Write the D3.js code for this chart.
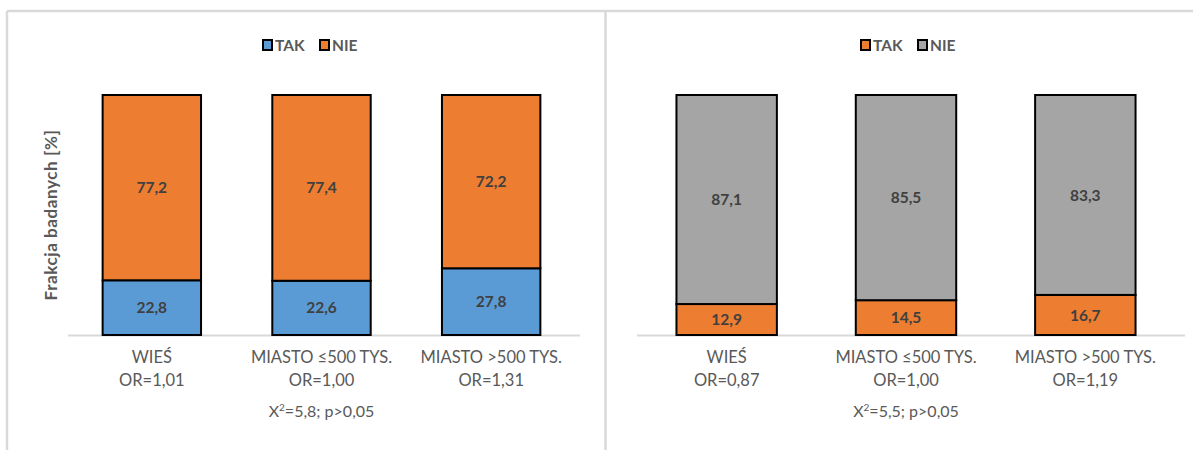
<!DOCTYPE html>
<html>
<head>
<meta charset="utf-8">
<script src="https://cdn.jsdelivr.net/npm/d3@7"></script>
<style>
  html, body { margin: 0; padding: 0; background: #ffffff; }
  svg { display: block; font-family: Lato, "Open Sans", sans-serif; }
</style>
</head>
<body>
<svg id="chart" width="1193" height="450"></svg>
<script>
// Categories (two-line axis labels)
const categories = ["WIEŚ", "MIASTO ≤500 TYS.", "MIASTO >500 TYS."];
const orLeft = ["OR=1,01", "OR=1,00", "OR=1,31"];
const orRight = ["OR=0,87", "OR=1,00", "OR=1,19"];

// Series values, percent
const takLeft = [22.8, 22.6, 27.8];
const nieLeft = [77.2, 77.4, 72.2];
const takRight = [12.9, 14.5, 16.7];
const nieRight = [87.1, 85.5, 83.3];

const seriesNames = ["TAK", "NIE"];
const statLeft = ["X", "2", "=5,8; p>0,05"];
const statRight = ["X", "2", "=5,5; p>0,05"];
const yTitle = "Frakcja badanych [%]";

const svg = d3.select("#chart");

// Panel frame lines
const frame = svg.append("g").attr("stroke", "#d9d9d9").attr("stroke-width", 2.5).attr("fill", "none");
frame.append("line").attr("x1", 7).attr("x2", 1193).attr("y1", 11).attr("y2", 11);
frame.append("line").attr("x1", 7).attr("x2", 7).attr("y1", 11).attr("y2", 450);
frame.append("line").attr("x1", 605.5).attr("x2", 605.5).attr("y1", 11).attr("y2", 450);

const y = d3.scaleLinear().domain([0, 100]).range([335, 95]);

function panel(opts) {
  const g = svg.append("g");
  const x = d3.scaleBand().domain(categories).range(opts.range).paddingInner(opts.pad).paddingOuter(opts.pad / 2);

  const rows = categories.map((c, i) => ({ cat: c, tak: opts.tak[i], nie: opts.nie[i], or: opts.or[i] }));
  const stack = d3.stack().keys(["tak", "nie"])(rows);

  // Baseline
  g.append("line")
    .attr("x1", opts.axis[0]).attr("x2", opts.axis[1])
    .attr("y1", y(0) + 0.5).attr("y2", y(0) + 0.5)
    .attr("stroke", "#d9d9d9").attr("stroke-width", 2);

  stack.forEach((layer, li) => {
    const lg = g.append("g");
    lg.selectAll("rect").data(layer).join("rect")
      .attr("x", d => x(d.data.cat))
      .attr("width", x.bandwidth())
      .attr("y", d => y(d[1]))
      .attr("height", d => y(d[0]) - y(d[1]))
      .attr("fill", opts.colors[li])
      .attr("stroke", "#000").attr("stroke-width", 2);
    lg.selectAll("text").data(layer).join("text")
      .attr("x", d => x(d.data.cat) + x.bandwidth() / 2)
      .attr("y", d => (y(d[0]) + y(d[1])) / 2)
      .attr("dy", "0.36em")
      .attr("text-anchor", "middle")
      .attr("font-size", 15.5).attr("font-weight", "bold")
      .attr("fill", "#404040")
      .text(d => d3.format(".1f")(d[1] - d[0]).replace(".", ","));
  });

  // Category labels
  const labels = g.append("g").attr("fill", "#595959").attr("font-size", 16.5).attr("text-anchor", "middle");
  rows.forEach(r => {
    const cx = x(r.cat) + x.bandwidth() / 2;
    labels.append("text").attr("x", cx).attr("y", 363).text(r.cat);
    labels.append("text").attr("x", cx).attr("y", 386).text(r.or);
  });

  // Chi-square note
  const mid = x(categories[1]) + x.bandwidth() / 2;
  const st = g.append("text").attr("x", mid).attr("y", 417).attr("text-anchor", "middle")
    .attr("fill", "#595959").attr("font-size", 16);
  st.append("tspan").text(opts.stat[0]);
  st.append("tspan").attr("font-size", 10).attr("dy", -6).text(opts.stat[1]);
  st.append("tspan").attr("dy", 6).text(opts.stat[2]);

  // Legend
  const leg = g.append("g").attr("transform", `translate(${opts.legendX},45)`);
  const offsets = [0, 57];
  seriesNames.forEach((n, i) => {
    leg.append("rect").attr("x", offsets[i] + 1).attr("y", -5).attr("width", 9).attr("height", 10)
      .attr("fill", opts.colors[i]).attr("stroke", "#000").attr("stroke-width", 2);
    leg.append("text").attr("x", offsets[i] + 13).attr("y", 0).attr("dy", "0.36em")
      .attr("font-size", 15.5).attr("font-weight", "bold").attr("fill", "#595959").text(n);
  });
}

panel({
  range: [67, 576], pad: 0.42, axis: [68, 580],
  tak: takLeft, nie: nieLeft, or: orLeft, stat: statLeft,
  colors: ["#5b9bd5", "#ed7d31"], legendX: 262
});

panel({
  range: [637, 1175], pad: 0.44, axis: [637, 1185],
  tak: takRight, nie: nieRight, or: orRight, stat: statRight,
  colors: ["#ed7d31", "#a5a5a5"], legendX: 860
});

// Y-axis title (left panel)
svg.append("text")
  .attr("transform", "translate(57,215) rotate(-90)")
  .attr("text-anchor", "middle")
  .attr("font-size", 17).attr("font-weight", "bold").attr("fill", "#595959")
  .attr("letter-spacing", 0.6)
  .text(yTitle);
</script>
</body>
</html>
